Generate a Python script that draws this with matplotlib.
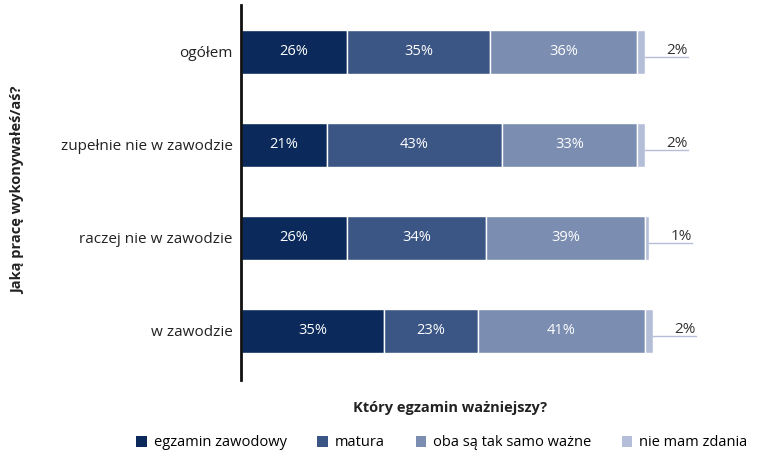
import matplotlib
matplotlib.use("Agg")
import matplotlib.pyplot as plt
from matplotlib.patches import Patch

plt.rcParams['font.family'] = ['Open Sans', 'DejaVu Sans']

categories = ["w zawodzie", "raczej nie w zawodzie", "zupełnie nie w zawodzie", "ogółem"]
series_names = ["egzamin zawodowy", "matura", "oba są tak samo ważne", "nie mam zdania"]
values = {
    "egzamin zawodowy": [35, 26, 21, 26],
    "matura": [23, 34, 43, 35],
    "oba są tak samo ważne": [41, 39, 33, 36],
    "nie mam zdania": [2, 1, 2, 2],
}
colors = ["#0b2a5b", "#3b5685", "#7b8db1", "#b5bed8"]

fig = plt.figure(figsize=(7.62, 4.55), dpi=100)
# 1% of the scale is about 4.08 px; leave room past 100%
ax = fig.add_axes([241 / 762, 75 / 455, 449 / 762, 375 / 455])

ypos = list(range(len(categories)))
left = [0] * len(categories)
for name, col in zip(series_names, colors):
    vals = values[name]
    ax.barh(ypos, vals, left=left, height=0.48, color=col,
            edgecolor="white", linewidth=1)
    for y, v, l in zip(ypos, vals, left):
        if name != "nie mam zdania":
            ax.text(l + v / 2, y, f"{v}%", ha="center", va="center",
                    color="white", fontsize=10.5)
        else:
            end = l + v
            line_end = end + 10.5
            ax.plot([end, line_end], [y - 0.05, y - 0.05], color="#b5bed8",
                    linewidth=1, clip_on=False)
            ax.text(line_end, y - 0.07, f"{v}%", ha="right", va="bottom",
                    color="#333333", fontsize=11, clip_on=False)
    left = [a + b for a, b in zip(left, vals)]

ax.set_xlim(0, 110)
ax.set_ylim(-0.527, 3.505)
ax.set_yticks(ypos)
ax.set_yticklabels(categories, fontsize=11, color="#222222")
ax.tick_params(axis="y", length=0, pad=6)
ax.set_xticks([])
for s in ["top", "right", "bottom"]:
    ax.spines[s].set_visible(False)
ax.spines["left"].set_linewidth(2)
ax.spines["left"].set_color("#111111")

fig.text(18 / 762, 1 - 190 / 455, "Jaką pracę wykonywałeś/aś?", rotation=90,
         ha="center", va="center", fontsize=10.5, fontweight="bold", color="#222222")
fig.text(450 / 762, 1 - 408 / 455, "Który egzamin ważniejszy?",
         ha="center", va="center", fontsize=10.5, fontweight="bold", color="#222222")

handles = [Patch(facecolor=c, edgecolor="none") for c in colors]
fig.legend(handles, series_names, loc="center", bbox_to_anchor=(442 / 762, 1 - 443 / 455),
           ncol=4, frameon=False, fontsize=10.5, handlelength=0.7, handleheight=0.7,
           handletextpad=0.5, columnspacing=2.1)

fig.savefig("out.png", dpi=100)
